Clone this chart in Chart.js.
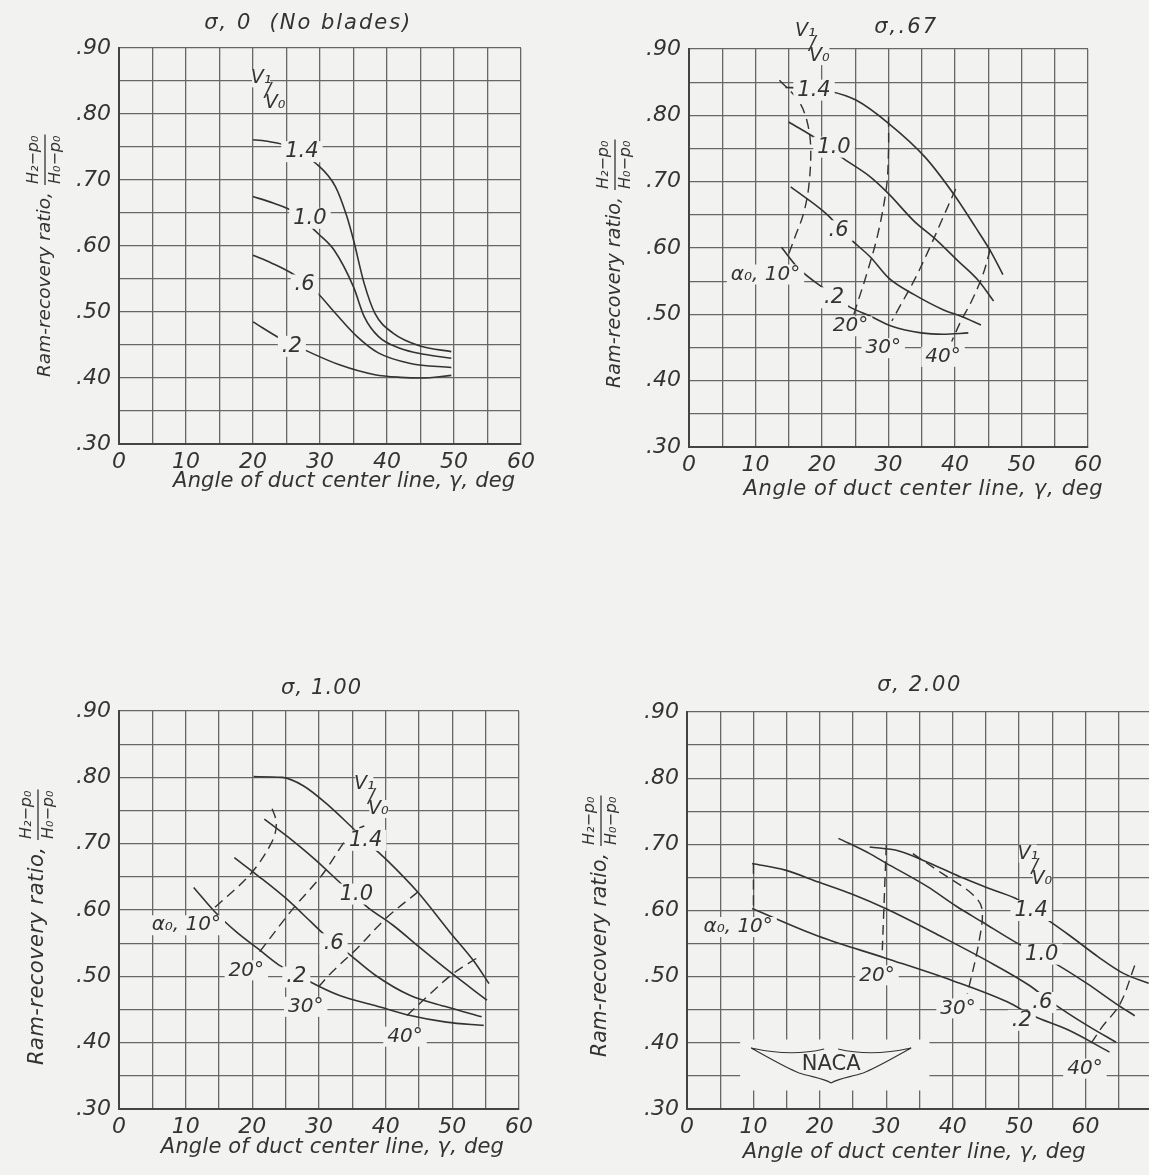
<!DOCTYPE html>
<html><head><meta charset="utf-8">
<script src="https://cdn.jsdelivr.net/npm/chart.js@4.4.1/dist/chart.umd.min.js"></script>
<style>
html,body{margin:0;padding:0;background:#f2f2f0;overflow:hidden;width:1149px;height:1175px;position:relative;}
canvas{position:absolute;display:block;}
</style></head><body>
<canvas id="p1"></canvas><canvas id="p2"></canvas><canvas id="p3"></canvas><canvas id="p4"></canvas>
<script>
// ================= DATA =================
const xTickValues = [0, 10, 20, 30, 40, 50, 60];
const xTickLabels = ['0', '10', '20', '30', '40', '50', '60'];
const yTickValues = [0.30, 0.40, 0.50, 0.60, 0.70, 0.80, 0.90];
const yTickLabels = ['.30', '.40', '.50', '.60', '.70', '.80', '.90'];
const curveNames = ['1.4', '1.0', '.6', '.2'];
const alphaNames = ['α₀, 10°', '20°', '30°', '40°'];

// sigma = 0 (no blades): [gamma deg, ram-recovery ratio]
const s0_v14 = [[20,.761],[22.5,.758],[25,.752],[29.4,.725],[32.3,.690],[34,.645],[35,.609],[36.6,.543],[38.2,.498],[40.9,.468],[45.1,.448],[49.6,.440]];
const s0_v10 = [[20,.675],[23,.665],[26,.652],[29.7,.619],[32.1,.594],[35,.538],[36.6,.493],[38.7,.463],[41.9,.445],[45.5,.436],[49.6,.430]];
const s0_v06 = [[20,.586],[22.8,.574],[26.2,.556],[29.4,.531],[32.3,.498],[35.5,.463],[38.7,.438],[43.5,.422],[49.6,.416]];
const s0_v02 = [[20,.485],[24.4,.458],[27.6,.443],[32.9,.420],[38.2,.405],[42,.401],[45.1,.400],[49.6,.404]];

// sigma = .67
const s67_v14 = [[14.5,.842],[17,.841],[21.3,.836],[25.1,.823],[30,.788],[35.5,.737],[40.1,.677],[43.1,.631],[45.3,.596],[47.2,.560]];
const s67_v10 = [[15,.790],[19.6,.762],[22.9,.737],[27.3,.707],[30,.682],[33.8,.641],[37.1,.613],[40.4,.581],[43.6,.550],[45.8,.520]];
const s67_v06 = [[15.3,.692],[20.7,.651],[24,.616],[27.3,.586],[30,.555],[33.8,.530],[38.2,.507],[40.9,.497],[43.9,.484]];
const s67_v02 = [[13.9,.601],[16.4,.570],[20.7,.536],[24,.512],[27.3,.497],[30.5,.482],[34.9,.472],[38.2,.470],[42,.472]];
const s67_a10 = [[13.6,.853],[16.4,.823],[17.7,.793],[18.3,.752],[18,.692],[17.2,.651],[16.1,.621],[15,.591]];
const s67_a20 = [[30,.798],[30,.747],[29.7,.692],[28.4,.621],[26.7,.560],[25.1,.510],[24.5,.490]];
const s67_a30 = [[40.1,.689],[38.2,.646],[36,.596],[33.8,.550],[31.6,.510],[30.5,.490]];
const s67_a40 = [[45.3,.598],[44.2,.560],[42.5,.520],[40.9,.490],[39.5,.459]];

// sigma = 1.00
const s100_v14 = [[20.2,.801],[24.5,.800],[27.7,.787],[31.5,.757],[34.7,.727],[37.5,.700],[40,.677],[44.8,.627],[49.6,.567],[53.3,.522],[55.5,.489]];
const s100_v10 = [[21.8,.737],[25.1,.712],[29.3,.677],[33.6,.637],[37.3,.604],[41.1,.577],[45.3,.542],[49.6,.507],[55.2,.464]];
const s100_v06 = [[17.3,.679],[20.8,.652],[25.1,.617],[28.8,.582],[30.9,.562],[34.1,.537],[38.4,.502],[43.7,.471],[49.1,.454],[54.4,.439]];
const s100_v02 = [[11.2,.634],[14.4,.597],[17.6,.567],[20.8,.542],[24,.517],[26.1,.507],[28.8,.491],[33.1,.471],[38.4,.456],[43.7,.441],[49.1,.431],[54.7,.426]];
const s100_a10 = [[14.4,.604],[19.7,.654],[22.9,.702],[23.6,.731],[22.7,.760]];
const s100_a20 = [[21.1,.537],[26.1,.602],[30.4,.652],[34.9,.717],[36.8,.727]];
const s100_a30 = [[29.9,.484],[32,.507],[35.7,.542],[40,.587],[44.8,.627]];
const s100_a40 = [[43.2,.441],[46.4,.471],[50.1,.504],[53.9,.529]];

// sigma = 2.00
const s200_v14 = [[27.5,.696],[31.9,.690],[36.2,.673],[41.1,.651],[46.1,.631],[49.9,.616],[53.7,.590],[57.5,.563],[61.9,.530],[65.7,.505],[69.5,.490]];
const s200_v10 = [[22.8,.709],[27.5,.686],[29.9,.672],[36.2,.636],[40.6,.606],[44.4,.583],[49.3,.553],[51.8,.540],[55.4,.520],[60.3,.489],[64.6,.459],[67.4,.441]];
const s200_v06 = [[9.8,.671],[14.8,.661],[19.8,.643],[24.8,.625],[29.9,.603],[38.4,.560],[45,.525],[51.5,.487],[54.8,.462],[60.3,.426],[64.6,.401]];
const s200_v02 = [[9.8,.603],[19.8,.561],[29.9,.528],[40,.494],[48.2,.462],[52.1,.441],[57.5,.419],[63.6,.386]];
const s200_a10 = [[10,.671],[10,.603]];
const s200_a20 = [[30,.699],[29.4,.540]];
const s200_a30 = [[34,.686],[38.4,.656],[42.8,.626],[44.4,.603],[43.9,.550],[42.2,.474]];
const s200_a40 = [[67.4,.517],[65.2,.459],[62.5,.424],[60.8,.399]];

// ================= STYLE / LAYOUT =================
const INK = '#333333';
const GRID = '#676767';
const AXIS = '#444444';
const BG = '#f2f2f0';
const FONT = "'DejaVu Sans', 'Liberation Sans', sans-serif";
Chart.defaults.font.family = FONT;

function spaced(ctx, text, x, y, target, align) {
  ctx.letterSpacing = '0px';
  const w = ctx.measureText(text).width;
  const n = [...text].length;
  let ls = 0;
  if (target && ('letterSpacing' in ctx) && n > 1) {
    ls = Math.max(0, (target - w) / (n - 1));
    ctx.letterSpacing = ls + 'px';
  }
  const total = w + ls * (n - 1);
  ctx.textAlign = 'left';
  const sx = align === 'center' ? x - total / 2 : x;
  ctx.fillText(text, sx, y);
  ctx.letterSpacing = '0px';
  return total;
}

// choose an italic font size no larger than maxSize so that text fits target width
function fitFont(ctx, text, maxSize, target) {
  ctx.font = `italic ${maxSize}px ${FONT}`;
  const w = ctx.measureText(text).width;
  const size = w > target ? Math.max(12, maxSize * target / w) : maxSize;
  ctx.font = `italic ${size.toFixed(1)}px ${FONT}`;
  return size;
}

function maskedText(ctx, t, x, y, size) {
  ctx.font = `italic ${size}px ${FONT}`;
  const w = ctx.measureText(t).width;
  ctx.fillStyle = BG;
  ctx.fillRect(x - w / 2 - 4, y - size * 0.5, w + 8, size * 1.0);
  ctx.fillStyle = INK;
  ctx.textAlign = 'center';
  ctx.textBaseline = 'middle';
  ctx.fillText(t, x, y);
}

function drawV(ctx, x, y) {
  ctx.font = `italic 19px ${FONT}`;
  ctx.fillStyle = BG;
  ctx.fillRect(x - 9, y - 9, 18, 18);
  ctx.fillRect(x + 5, y + 16, 19, 18);
  ctx.fillStyle = INK;
  ctx.textAlign = 'center';
  ctx.textBaseline = 'middle';
  ctx.fillText('V₁', x, y);
  ctx.fillText('/', x + 7, y + 13);
  ctx.fillText('V₀', x + 14, y + 25);
}

function drawLogo(ctx, X, Y) {
  ctx.fillStyle = BG;
  ctx.fillRect(X(8), Y(0.405), X(36.5) - X(8), Y(0.328) - Y(0.405));
  const cx = X(21.7), cy = Y(0.368);
  ctx.strokeStyle = INK;
  ctx.lineWidth = 1.2;
  ctx.beginPath();
  for (const s of [-1, 1]) {
    ctx.moveTo(cx + s * 80, cy - 16);
    ctx.quadraticCurveTo(cx + s * 40, cy - 7, cx + s * 7, cy - 15);
    ctx.moveTo(cx + s * 80, cy - 16);
    ctx.bezierCurveTo(cx + s * 62, cy - 6, cx + s * 45, cy + 4, cx + s * 32, cy + 9);
    ctx.bezierCurveTo(cx + s * 20, cy + 13, cx + s * 8, cy + 14, cx, cy + 19);
  }
  ctx.stroke();
  ctx.fillStyle = INK;
  ctx.font = `21px ${FONT}`;
  ctx.textAlign = 'center';
  ctx.textBaseline = 'middle';
  ctx.fillText('NACA', cx, cy + 1);
}

function yTitle(ctx, cx, startY, mainLen) {
  ctx.save();
  ctx.translate(cx, startY);
  ctx.rotate(-Math.PI / 2);
  ctx.fillStyle = INK;
  ctx.textBaseline = 'middle';
  const main = 'Ram-recovery ratio,';
  fitFont(ctx, main, 21, mainLen);
  const used = spaced(ctx, main, 0, 0, mainLen, 'left');
  const f0 = used + 8;
  ctx.font = `italic 16px ${FONT}`;
  const wn = spaced(ctx, 'H₂−p₀', f0, -11, 0, 'left');
  spaced(ctx, 'H₀−p₀', f0, 11, 0, 'left');
  ctx.strokeStyle = INK;
  ctx.lineWidth = 1.3;
  ctx.beginPath();
  ctx.moveTo(f0 - 1, 0);
  ctx.lineTo(f0 + wn + 1, 0);
  ctx.stroke();
  ctx.restore();
}

function notesPlugin(n) {
  return {
    id: 'notes',
    afterDatasetsDraw(chart) {
      const ctx = chart.ctx, xs = chart.scales.x, ys = chart.scales.y, ca = chart.chartArea;
      const X = v => xs.getPixelForValue(v), Y = v => ys.getPixelForValue(v);
      ctx.save();
      if (n.logo) drawLogo(ctx, X, Y);
      n.curveLabels.forEach((p, i) => maskedText(ctx, curveNames[i], X(p[0]), Y(p[1]), 21));
      (n.alphaLabels || []).forEach((p, i) => maskedText(ctx, alphaNames[i], X(p[0]), Y(p[1]), 20));
      drawV(ctx, X(n.v[0]), Y(n.v[1]));
      ctx.fillStyle = INK;
      ctx.textBaseline = 'middle';
      fitFont(ctx, n.title, 21, n.titleW);
      spaced(ctx, n.title, X(n.titleX), ca.top + n.titleDy, n.titleW, 'center');
      const xt = 'Angle of duct center line, γ, deg';
      fitFont(ctx, xt, 21, n.xTitleW);
      spaced(ctx, xt, X(n.xTitleX), ca.bottom + n.xTitleDy, n.xTitleW, 'center');
      yTitle(ctx, ca.left + n.yTitleDx, ca.top + n.yTitleStart, n.yTitleLen);
      ctx.restore();
    }
  };
}

function tickLabel(vals, labels) {
  return v => {
    const i = vals.findIndex(t => Math.abs(t - v) < 1e-6);
    return i >= 0 ? labels[i] : '';
  };
}

function build(id, box, xMax, solid, dashed, notes) {
  const cv = document.getElementById(id);
  const W = box.R - box.L + 150, H = box.B - box.T + 158;
  cv.width = W; cv.height = H;
  cv.style.width = W + 'px'; cv.style.height = H + 'px';
  cv.style.left = (box.L - 110) + 'px'; cv.style.top = (box.T - 48) + 'px';
  const ds = [];
  solid.forEach(s => ds.push({ data: s.map(p => ({ x: p[0], y: p[1] })), borderColor: INK, borderWidth: 1.6,
    cubicInterpolationMode: 'monotone', pointRadius: 0, fill: false }));
  dashed.forEach(s => ds.push({ data: s.map(p => ({ x: p[0], y: p[1] })), borderColor: INK, borderWidth: 1.4,
    borderDash: [10, 6], tension: 0.35, pointRadius: 0, fill: false }));
  const xGrid = [], yGrid = [];
  for (let v = 0; v <= xMax; v += 5) xGrid.push(v);
  for (let k = 30; k <= 90; k += 5) yGrid.push(k / 100);
  new Chart(cv, {
    type: 'line',
    data: { datasets: ds },
    options: {
      responsive: false, animation: false, devicePixelRatio: 1,
      layout: { padding: { left: 50, top: 48, right: 40, bottom: 80 }, autoPadding: false },
      plugins: { legend: { display: false }, tooltip: { enabled: false } },
      scales: {
        x: {
          type: 'linear', min: 0, max: xMax,
          afterFit: s => { s.height = 30; },
          afterBuildTicks: s => { s.ticks = xGrid.map(v => ({ value: v })); },
          ticks: { callback: tickLabel(xTickValues, xTickLabels), font: { size: 22, style: 'italic' },
            color: INK, padding: 5, maxRotation: 0, autoSkip: false },
          grid: { color: GRID, lineWidth: 1.3, drawTicks: false },
          border: { color: AXIS, width: 2 }
        },
        y: {
          type: 'linear', min: 0.3, max: 0.9,
          afterFit: s => { s.width = 60; },
          afterBuildTicks: s => { s.ticks = yGrid.map(v => ({ value: v })); },
          ticks: { callback: tickLabel(yTickValues, yTickLabels), font: { size: 22, style: 'italic' },
            color: INK, padding: 8, autoSkip: false },
          grid: { color: GRID, lineWidth: 1.3, drawTicks: false },
          border: { color: AXIS, width: 2 }
        }
      }
    },
    plugins: [notesPlugin(notes)]
  });
}

build('p1', { L: 119, T: 48, R: 521, B: 444 }, 60,
  [s0_v14, s0_v10, s0_v06, s0_v02], [],
  { title: 'σ, 0  (No blades)', titleX: 28.1, titleDy: -24, titleW: 206,
    curveLabels: [[27.3, .743], [28.5, .642], [27.7, .541], [25.8, .448]],
    v: [21.2, .854],
    xTitleX: 33.6, xTitleDy: 38, xTitleW: 342,
    yTitleDx: -74, yTitleStart: 329, yTitleLen: 185 });

build('p2', { L: 689, T: 49, R: 1088, B: 447 }, 60,
  [s67_v14, s67_v10, s67_v06, s67_v02], [s67_a10, s67_a20, s67_a30, s67_a40],
  { title: 'σ,.67', titleX: 32.5, titleDy: -21, titleW: 62,
    curveLabels: [[18.8, .838], [21.8, .752], [22.5, .626], [21.8, .525]],
    alphaLabels: [[11.5, .560], [24.3, .482], [29.2, .449], [38.2, .436]],
    v: [17.5, .927],
    xTitleX: 35.2, xTitleDy: 43, xTitleW: 359,
    yTitleDx: -74, yTitleStart: 339, yTitleLen: 191 });

build('p3', { L: 119, T: 711, R: 519, B: 1109 }, 60,
  [s100_v14, s100_v10, s100_v06, s100_v02], [s100_a10, s100_a20, s100_a30, s100_a40],
  { title: 'σ, 1.00', titleX: 30.3, titleDy: -22, titleW: 80,
    curveLabels: [[37, .705], [35.6, .624], [32.2, .549], [26.6, .499]],
    alphaLabels: [[10.1, .577], [19.1, .509], [28, .454], [42.9, .409]],
    v: [36.8, .79],
    xTitleX: 32, xTitleDy: 39, xTitleW: 343,
    yTitleDx: -81, yTitleStart: 354, yTitleLen: 218 });

build('p4', { L: 687, T: 712, R: 1152, B: 1109 }, 70,
  [s200_v14, s200_v10, s200_v06, s200_v02], [s200_a10, s200_a20, s200_a30, s200_a40],
  { title: 'σ, 2.00', titleX: 34.9, titleDy: -26, titleW: 83,
    curveLabels: [[51.8, .600], [53.4, .534], [53.5, .461], [50.4, .434]],
    alphaLabels: [[7.7, .575], [28.6, .502], [40.8, .452], [59.9, .361]],
    v: [51.3, .686], logo: true,
    xTitleX: 34.2, xTitleDy: 44, xTitleW: 343,
    yTitleDx: -86, yTitleStart: 345, yTitleLen: 204 });
</script>
</body></html>
